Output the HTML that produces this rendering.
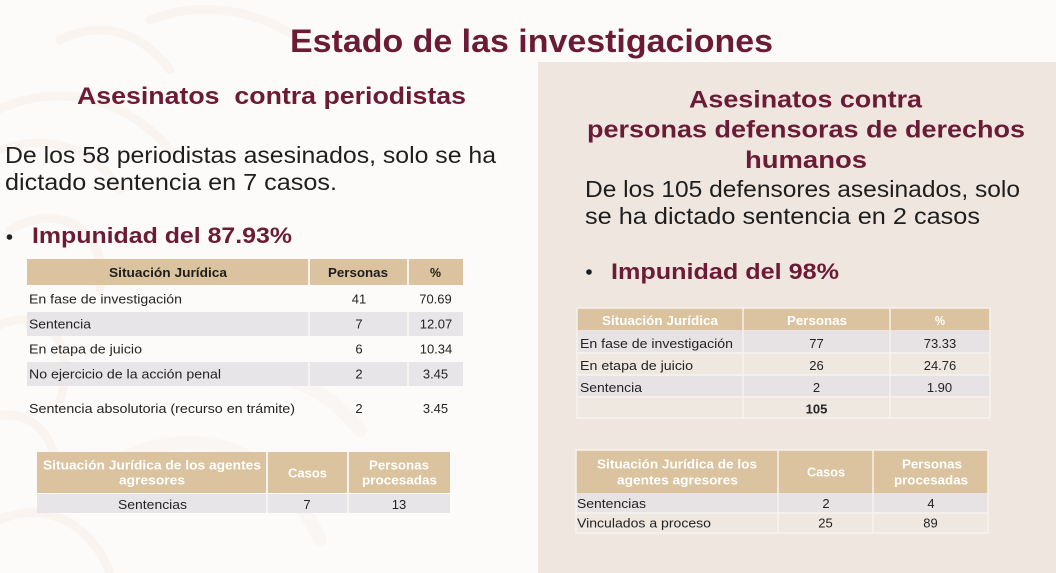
<!DOCTYPE html>
<html>
<head>
<meta charset="utf-8">
<style>
  html,body{margin:0;padding:0;background:#fdfbfa;}
  svg{display:block;}
  text{font-family:"Liberation Sans",sans-serif;}
  .g{fill:#6b1b36;font-weight:bold;}
  .b{fill:#1e1e1e;}
  .t{fill:#232323;font-size:13px;}
  .hd{fill:#1e1e1e;font-size:13px;font-weight:bold;}
  .hw{fill:#ffffff;font-size:13px;font-weight:bold;}
</style>
</head>
<body>
<svg width="1056" height="573" viewBox="0 0 1056 573" xmlns="http://www.w3.org/2000/svg">
  <!-- background -->
  <rect x="0" y="0" width="1056" height="573" fill="#fdfbfa"/>
  <!-- faint decorative swirls on left -->
  <g fill="none" stroke="#f8f2ed" stroke-width="9" stroke-linecap="round" opacity="0.7">
    <path d="M-20 120 C 40 80, 120 90, 170 150"/>
    <path d="M-20 160 C 30 130, 90 140, 120 190"/>
    <path d="M10 230 C 60 200, 110 230, 100 290"/>
    <path d="M-10 330 C 40 300, 80 340, 60 400"/>
    <path d="M-20 420 C 30 400, 70 440, 50 500"/>
    <path d="M0 520 C 40 500, 90 520, 110 573"/>
    <path d="M150 20 C 200 0, 260 10, 300 40"/>
    <path d="M60 40 C 100 20, 140 30, 170 70"/>
  </g>
  <g fill="none" stroke="#f9f4ef" stroke-width="14" stroke-linecap="round" opacity="0.6">
    <path d="M120 460 C 200 420, 280 450, 320 540"/>
    <path d="M200 380 C 260 360, 320 380, 360 430"/>
  </g>

  <!-- right panel -->
  <rect x="538" y="62" width="518" height="511" fill="#eee6df"/>

  <!-- Title -->
  <text class="g" x="290" y="52" font-size="32" textLength="483" lengthAdjust="spacingAndGlyphs">Estado de las investigaciones</text>

  <!-- Left column -->
  <text class="g" x="77" y="104" font-size="24" textLength="389" lengthAdjust="spacingAndGlyphs" style="white-space:pre">Asesinatos  contra periodistas</text>
  <text class="b" x="5" y="163" font-size="23" textLength="491" lengthAdjust="spacingAndGlyphs">De los 58 periodistas asesinados, solo se ha</text>
  <text class="b" x="5" y="190" font-size="23" textLength="332" lengthAdjust="spacingAndGlyphs">dictado sentencia en 7 casos.</text>
  <circle cx="9.5" cy="237" r="2.8" fill="#1e1e1e"/>
  <text class="g" x="32" y="243" font-size="22" textLength="260" lengthAdjust="spacingAndGlyphs">Impunidad del 87.93%</text>

  <!-- Table 1 -->
  <rect x="27" y="259" width="436" height="26" fill="#dac39e"/>
  <rect x="27" y="312" width="436" height="24" fill="#e8e5e8"/>
  <rect x="27" y="362" width="436" height="24" fill="#e8e5e8"/>
  <g stroke="#f7f3ef" stroke-width="2">
    <line x1="309" y1="259" x2="309" y2="285"/>
    <line x1="408" y1="259" x2="408" y2="285"/>
    <line x1="309" y1="312" x2="309" y2="336"/>
    <line x1="408" y1="312" x2="408" y2="336"/>
    <line x1="309" y1="362" x2="309" y2="386"/>
    <line x1="408" y1="362" x2="408" y2="386"/>
  </g>
  <text class="hd" x="109" y="277" textLength="118" lengthAdjust="spacingAndGlyphs">Situación Jurídica</text>
  <text class="hd" x="328" y="277" textLength="60" lengthAdjust="spacingAndGlyphs">Personas</text>
  <text class="hd" x="430" y="277" textLength="11" lengthAdjust="spacingAndGlyphs">%</text>

  <text class="t" x="29" y="303.5" textLength="153" lengthAdjust="spacingAndGlyphs">En fase de investigación</text>
  <text class="t" x="359" y="303.5" text-anchor="middle">41</text>
  <text class="t" x="435.5" y="303.5" text-anchor="middle">70.69</text>

  <text class="t" x="29" y="328.5" textLength="62" lengthAdjust="spacingAndGlyphs">Sentencia</text>
  <text class="t" x="359" y="328.5" text-anchor="middle">7</text>
  <text class="t" x="436" y="328.5" text-anchor="middle">12.07</text>

  <text class="t" x="29" y="353.5" textLength="113" lengthAdjust="spacingAndGlyphs">En etapa de juicio</text>
  <text class="t" x="359" y="353.5" text-anchor="middle">6</text>
  <text class="t" x="436" y="353.5" text-anchor="middle">10.34</text>

  <text class="t" x="29" y="378.5" textLength="192" lengthAdjust="spacingAndGlyphs">No ejercicio de la acción penal</text>
  <text class="t" x="359" y="378.5" text-anchor="middle">2</text>
  <text class="t" x="435.5" y="378.5" text-anchor="middle">3.45</text>

  <text class="t" x="29" y="413" textLength="266" lengthAdjust="spacingAndGlyphs">Sentencia absolutoria (recurso en trámite)</text>
  <text class="t" x="359" y="413" text-anchor="middle">2</text>
  <text class="t" x="435.5" y="413" text-anchor="middle">3.45</text>

  <!-- Table 2 -->
  <rect x="37" y="452" width="413" height="41" fill="#dac39e"/>
  <rect x="37" y="494" width="413" height="19" fill="#e8e5e8"/>
  <g stroke="#f7f3ef" stroke-width="2">
    <line x1="267" y1="452" x2="267" y2="513"/>
    <line x1="348" y1="452" x2="348" y2="513"/>
  </g>
  <text class="hw" x="43" y="469.5" textLength="218" lengthAdjust="spacingAndGlyphs">Situación Jurídica de los agentes</text>
  <text class="hw" x="119" y="484.5" textLength="66" lengthAdjust="spacingAndGlyphs">agresores</text>
  <text class="hw" x="288" y="477.5" textLength="39" lengthAdjust="spacingAndGlyphs">Casos</text>
  <text class="hw" x="369" y="469.5" textLength="60" lengthAdjust="spacingAndGlyphs">Personas</text>
  <text class="hw" x="362" y="484.5" textLength="75" lengthAdjust="spacingAndGlyphs">procesadas</text>
  <text class="t" x="118" y="509" textLength="69" lengthAdjust="spacingAndGlyphs">Sentencias</text>
  <text class="t" x="307" y="509" text-anchor="middle">7</text>
  <text class="t" x="399" y="509" text-anchor="middle">13</text>

  <!-- Right column -->
  <text class="g" x="689" y="107.5" font-size="24" textLength="233" lengthAdjust="spacingAndGlyphs">Asesinatos contra</text>
  <text class="g" x="587" y="137.5" font-size="24" textLength="438" lengthAdjust="spacingAndGlyphs">personas defensoras de derechos</text>
  <text class="g" x="745" y="168" font-size="24" textLength="122" lengthAdjust="spacingAndGlyphs">humanos</text>
  <text class="b" x="585" y="197" font-size="23" textLength="435" lengthAdjust="spacingAndGlyphs">De los 105 defensores asesinados, solo</text>
  <text class="b" x="585" y="224" font-size="23" textLength="395" lengthAdjust="spacingAndGlyphs">se ha dictado sentencia en 2 casos</text>
  <circle cx="589" cy="272" r="2.8" fill="#1e1e1e"/>
  <text class="g" x="611" y="279" font-size="22" textLength="228" lengthAdjust="spacingAndGlyphs">Impunidad del 98%</text>

  <!-- Table 3 -->
  <rect x="577" y="308" width="413" height="22" fill="#dac39e"/>
  <rect x="577" y="330" width="413" height="23" fill="#e7e2e4"/>
  <rect x="577" y="353" width="413" height="22" fill="#efe8e0"/>
  <rect x="577" y="375" width="413" height="22" fill="#e7e2e4"/>
  <rect x="577" y="397" width="413" height="21" fill="#efe8e0"/>
  <g stroke="#f6f2ee" stroke-width="1.5" fill="none">
    <line x1="743" y1="308" x2="743" y2="418"/>
    <line x1="890" y1="308" x2="890" y2="418"/>
    <line x1="577" y1="353" x2="990" y2="353"/>
    <line x1="577" y1="375" x2="990" y2="375"/>
    <line x1="577" y1="397" x2="990" y2="397"/>
    <rect x="577" y="308" width="413" height="110"/>
  </g>
  <text class="hw" x="602" y="325" textLength="116" lengthAdjust="spacingAndGlyphs">Situación Jurídica</text>
  <text class="hw" x="787" y="325" textLength="60" lengthAdjust="spacingAndGlyphs">Personas</text>
  <text class="hw" x="935" y="325" textLength="10" lengthAdjust="spacingAndGlyphs">%</text>

  <text class="t" x="580" y="348" textLength="153" lengthAdjust="spacingAndGlyphs">En fase de investigación</text>
  <text class="t" x="816.5" y="348" text-anchor="middle">77</text>
  <text class="t" x="940" y="348" text-anchor="middle">73.33</text>

  <text class="t" x="580" y="370" textLength="113" lengthAdjust="spacingAndGlyphs">En etapa de juicio</text>
  <text class="t" x="816.5" y="370" text-anchor="middle">26</text>
  <text class="t" x="940" y="370" text-anchor="middle">24.76</text>

  <text class="t" x="580" y="392" textLength="62" lengthAdjust="spacingAndGlyphs">Sentencia</text>
  <text class="t" x="816.5" y="392" text-anchor="middle">2</text>
  <text class="t" x="939.5" y="392" text-anchor="middle">1.90</text>

  <text class="t" x="816.5" y="413.5" text-anchor="middle" font-weight="bold">105</text>

  <!-- Table 4 -->
  <rect x="576" y="450" width="412" height="43" fill="#dac39e"/>
  <rect x="576" y="493" width="412" height="20" fill="#e7e2e4"/>
  <rect x="576" y="513" width="412" height="20" fill="#efe8e0"/>
  <g stroke="#f6f2ee" stroke-width="1.5" fill="none">
    <line x1="778" y1="450" x2="778" y2="533"/>
    <line x1="873" y1="450" x2="873" y2="533"/>
    <line x1="576" y1="513" x2="988" y2="513"/>
    <rect x="576" y="450" width="412" height="83"/>
  </g>
  <text class="hw" x="597" y="468.5" textLength="160" lengthAdjust="spacingAndGlyphs">Situación Jurídica de los</text>
  <text class="hw" x="617" y="484.5" textLength="121" lengthAdjust="spacingAndGlyphs">agentes agresores</text>
  <text class="hw" x="807" y="476.5" textLength="38" lengthAdjust="spacingAndGlyphs">Casos</text>
  <text class="hw" x="902" y="468.5" textLength="60" lengthAdjust="spacingAndGlyphs">Personas</text>
  <text class="hw" x="894" y="484.5" textLength="74" lengthAdjust="spacingAndGlyphs">procesadas</text>

  <text class="t" x="577" y="508" textLength="69" lengthAdjust="spacingAndGlyphs">Sentencias</text>
  <text class="t" x="826" y="508" text-anchor="middle">2</text>
  <text class="t" x="931" y="508" text-anchor="middle">4</text>

  <text class="t" x="577" y="527.5" textLength="134" lengthAdjust="spacingAndGlyphs">Vinculados a proceso</text>
  <text class="t" x="825.5" y="527.5" text-anchor="middle">25</text>
  <text class="t" x="930.5" y="527.5" text-anchor="middle">89</text>
</svg>
</body>
</html>
